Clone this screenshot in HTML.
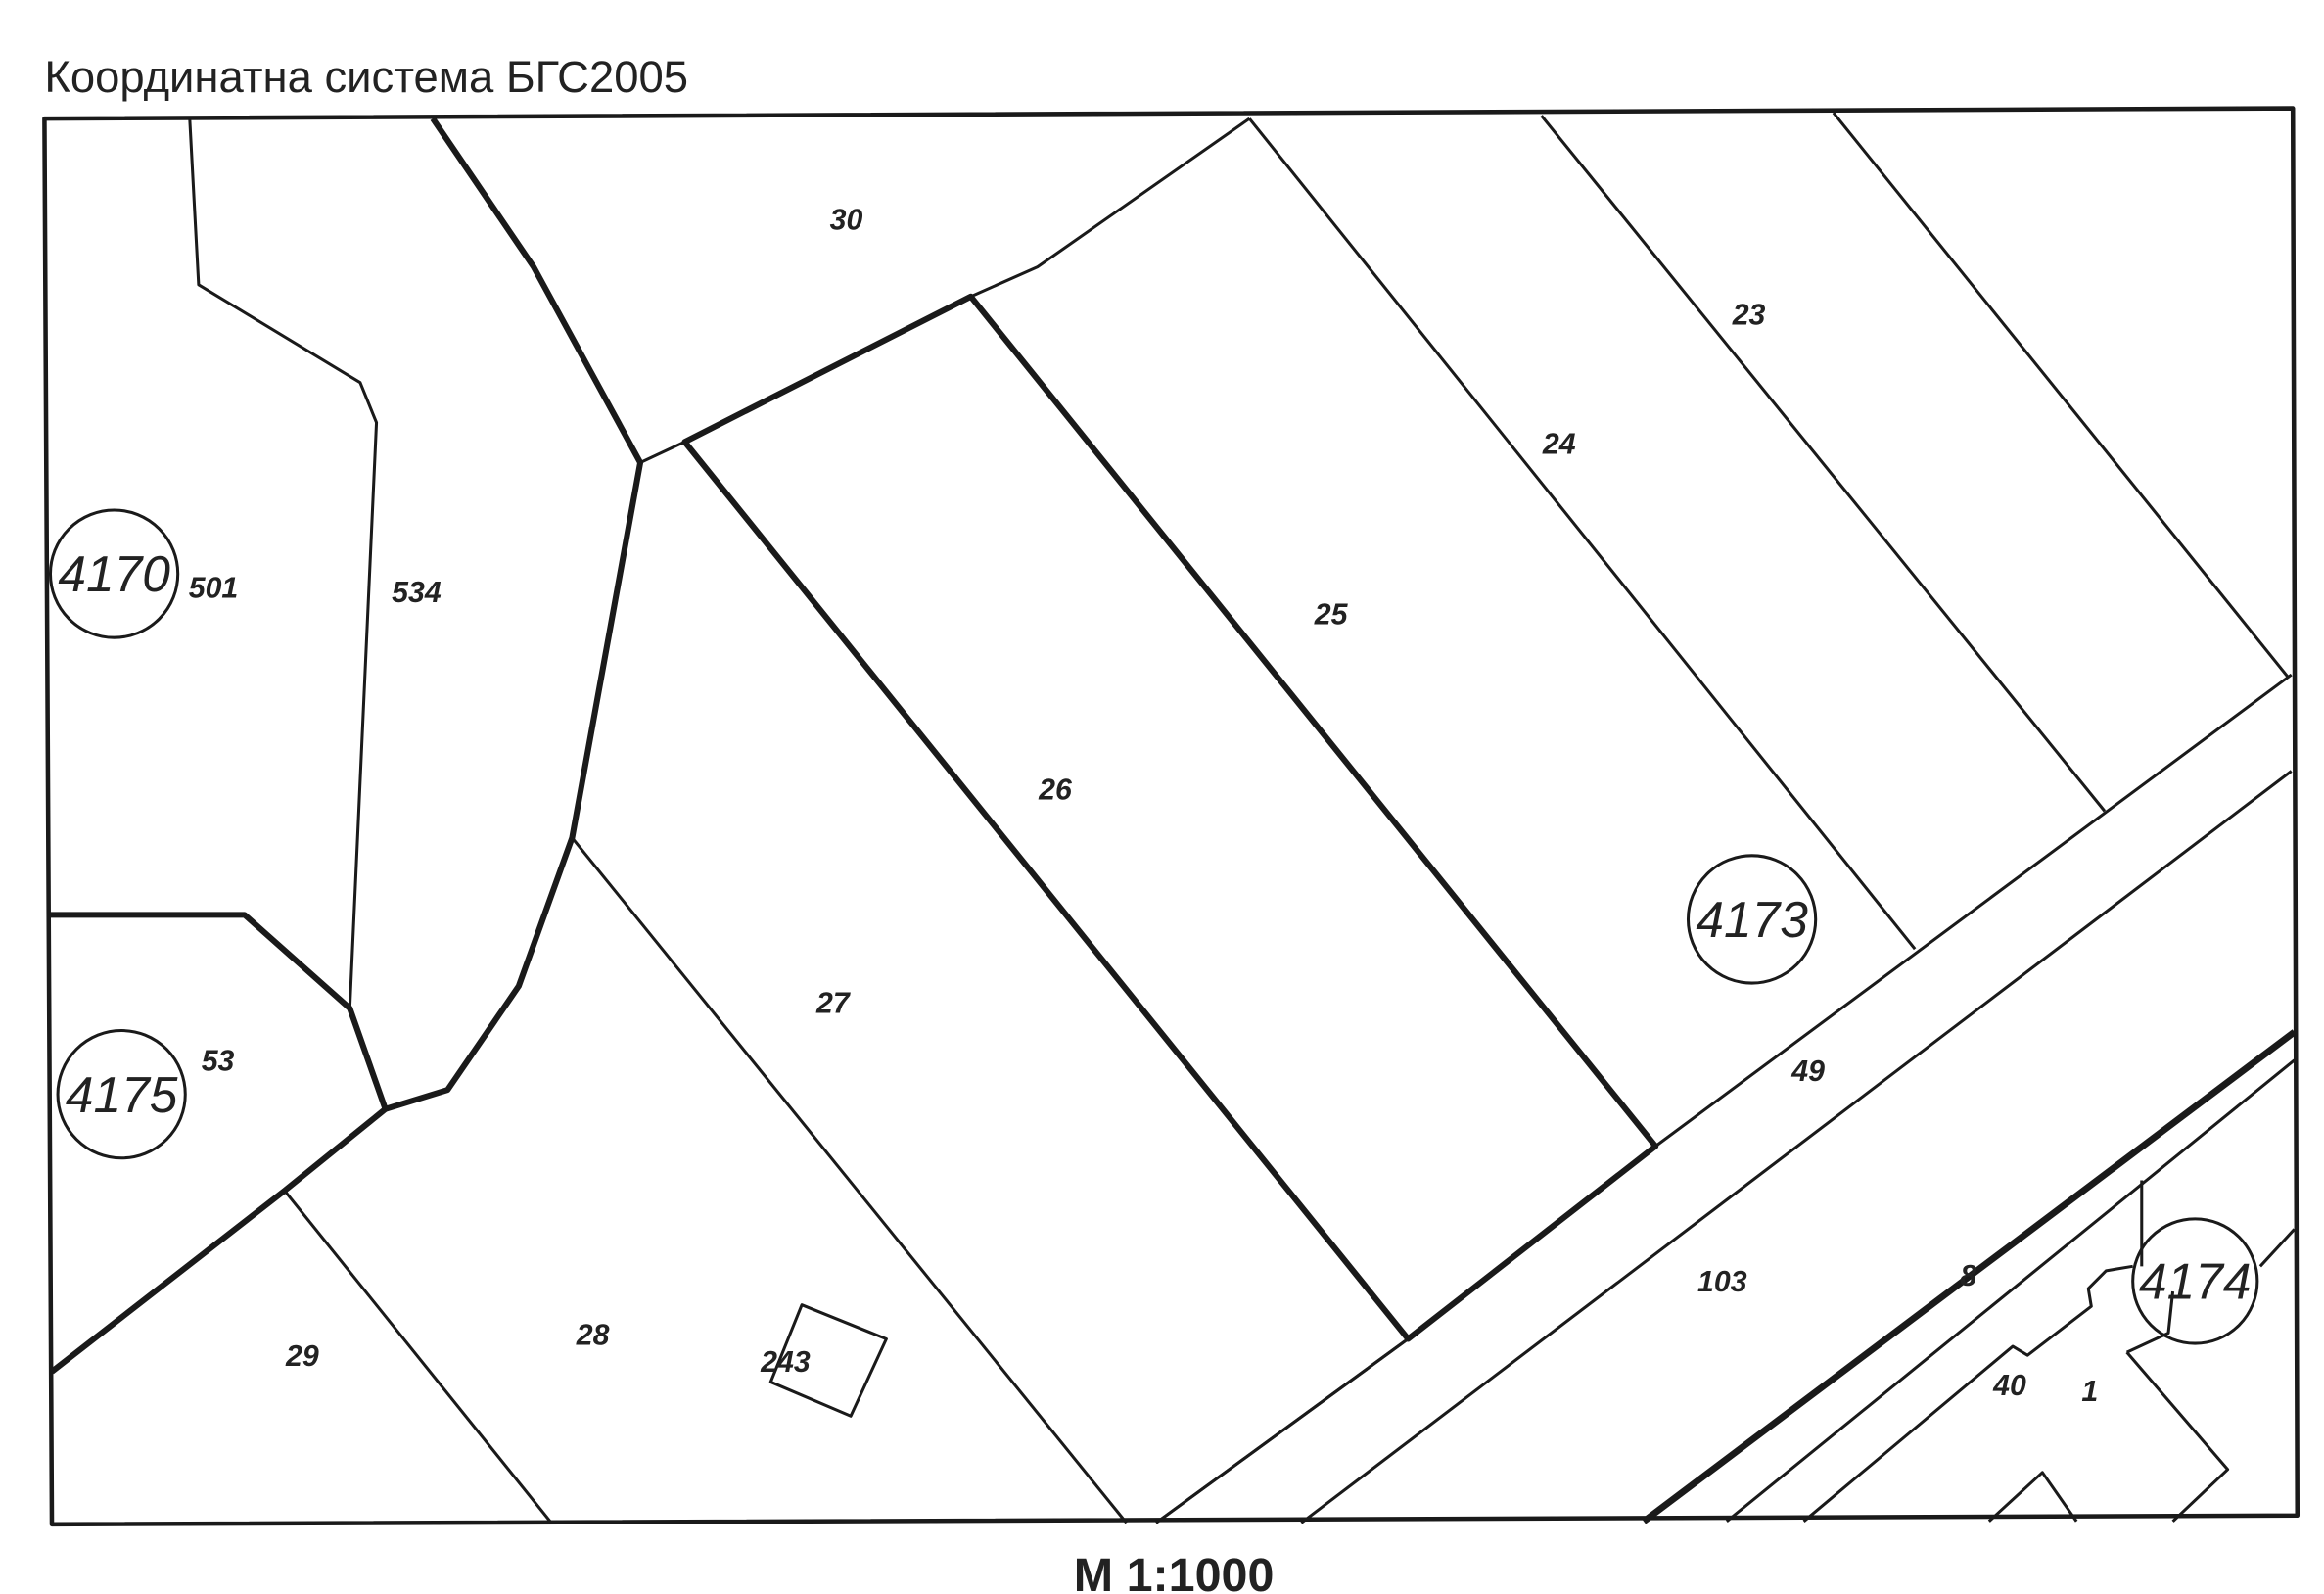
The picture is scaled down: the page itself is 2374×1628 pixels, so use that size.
<!DOCTYPE html>
<html><head><meta charset="utf-8"><style>
html,body{margin:0;padding:0;background:#fff;}
svg{display:block;}
</style></head><body>
<svg width="2374" height="1628" viewBox="0 0 1568 1075" preserveAspectRatio="none" xmlns="http://www.w3.org/2000/svg" font-family="Liberation Sans, sans-serif">
<rect width="1568" height="1075" fill="#fff"/>
<text x="30" y="62" font-size="30" fill="#222">Координатна система БГС2005</text>
<g fill="none" stroke="#1a1a1a" stroke-linejoin="round">
<polygon points="30,80 1547,73 1550,1022 35,1028" stroke-width="3"/>
<g stroke-width="2">
<polyline points="128,80 134,192 243,258 254,285 236,680"/>
<polyline points="655,200 700,180 843,80"/>
<polyline points="432,312 462,298"/>
<line x1="843" y1="80" x2="1292" y2="640"/>
<line x1="1040" y1="78" x2="1420" y2="547"/>
<line x1="1237" y1="76" x2="1544" y2="457"/>
<line x1="386" y1="565" x2="760" y2="1027"/>
<line x1="192" y1="803" x2="372" y2="1027"/>
<polyline points="780,1027 950,903"/>
<line x1="1117" y1="773" x2="1546" y2="455"/>
<line x1="878" y1="1027" x2="1546" y2="520"/>
<line x1="1165" y1="1026" x2="1548" y2="715"/>
<polyline points="1217,1026 1358,908 1368,914 1411,881 1409,869 1421,857 1439,854"/>
<line x1="1445" y1="796" x2="1445" y2="854"/>
<polyline points="1466,871 1463,899 1435,912"/>
<polyline points="1435,912 1503,991 1466,1026"/>
<polyline points="1342,1026 1378,993 1401,1026"/>
<line x1="1525" y1="854" x2="1548" y2="829"/>
<polygon points="541,880 598,903 574,955 520,932"/>
</g>
<g stroke-width="4">
<polyline points="292,80 360,180 432,312 386,565 350,665 302,735 260,748 236,680 165,617 33,617"/>
<polyline points="260,748 192,803 35,925"/>
<polygon points="462,298 655,200 1117,773 950,903"/>
<line x1="950" y1="903" x2="780" y2="1027" stroke-width="2"/>
<line x1="1109" y1="1026" x2="1548" y2="696" stroke-width="4.5"/>
</g>
<g stroke-width="2">
<circle cx="77" cy="387" r="43"/>
<circle cx="82" cy="738" r="43"/>
<circle cx="1182" cy="620" r="43"/>
<circle cx="1481" cy="864" r="42"/>
</g>
</g>
<g font-size="20" font-weight="bold" font-style="italic" fill="#222" text-anchor="middle">
<text x="571" y="155">30</text><text x="1180" y="219">23</text><text x="1052" y="306">24</text>
<text x="898" y="421">25</text><text x="712" y="539">26</text><text x="281" y="406">534</text>
<text x="144" y="403">501</text><text x="147" y="722">53</text><text x="562" y="683">27</text>
<text x="1220" y="729">49</text><text x="1162" y="871">103</text><text x="400" y="907">28</text>
<text x="204" y="921">29</text><text x="530" y="925">243</text><text x="1356" y="941">40</text>
<text x="1410" y="945">1</text><text x="1328" y="867">8</text>
</g>
<g font-size="34" font-style="italic" fill="#222" text-anchor="middle">
<text x="77" y="399">4170</text><text x="82" y="750">4175</text>
<text x="1182" y="632">4173</text><text x="1481" y="876">4174</text>
</g>
<text x="792" y="1073" font-size="32" font-weight="bold" fill="#222" text-anchor="middle">M 1:1000</text>
</svg>
</body></html>
